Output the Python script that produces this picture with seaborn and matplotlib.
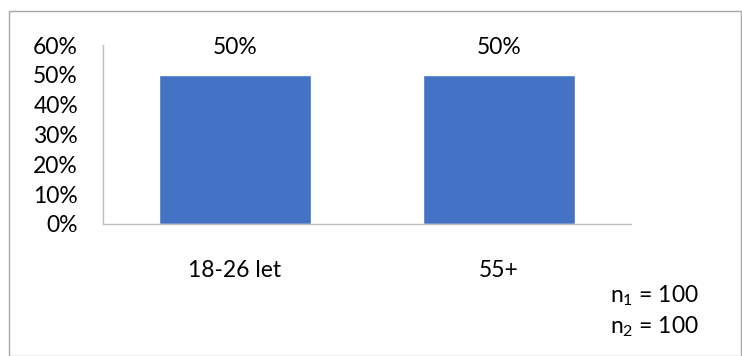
import matplotlib
matplotlib.use("Agg")
import matplotlib.pyplot as plt
import seaborn as sns
import pandas as pd
from matplotlib.patches import Rectangle
from matplotlib.ticker import PercentFormatter

categories = ["18-26 let", "55+"]
shares = [0.50, 0.50]
y_ticks = [0.0, 0.1, 0.2, 0.3, 0.4, 0.5, 0.6]
sample_sizes = [100, 100]

FS = 16.5

sns.set_theme(style="white")
plt.rcParams["font.family"] = ["Lato", "DejaVu Sans"]
plt.rcParams["mathtext.fontset"] = "custom"
plt.rcParams["mathtext.rm"] = "Lato"
plt.rcParams["mathtext.it"] = "Lato"

df = pd.DataFrame({"group": categories, "share": shares})

fig = plt.figure(figsize=(7.42, 3.56), dpi=100)
ax = fig.add_axes([103 / 742, 1 - 224 / 356, 528 / 742, 179 / 356])

sns.barplot(data=df, x="group", y="share", color="#4472C4", saturation=1,
            width=0.572, ax=ax)

ax.set_ylim(0, 0.6)
ax.set_yticks(y_ticks)
ax.yaxis.set_major_formatter(PercentFormatter(1.0, decimals=0))
ax.set_xlabel("")
ax.set_ylabel("")
ax.tick_params(axis="y", length=0, pad=18, labelsize=FS, colors="#000000")
ax.tick_params(axis="x", length=0, pad=26, labelsize=FS, colors="#000000")

for side in ("top", "right"):
    ax.spines[side].set_visible(False)
for side in ("left", "bottom"):
    ax.spines[side].set_color("#BFBFBF")
    ax.spines[side].set_linewidth(1.0)

for i, v in enumerate(shares):
    ax.annotate(f"{v:.0%}", (i, v), xytext=(0, 12), textcoords="offset points",
                ha="center", va="bottom", fontsize=FS, color="#000000")

# sample size note
for k, n in enumerate(sample_sizes):
    fig.text(610 / 742, 1 - (296 + 31 * k) / 356,
             rf"$\mathregular{{n_{k + 1}}}$ = {n}",
             ha="left", va="center", fontsize=FS, color="#000000")

# outer frame
fig.patches.append(Rectangle((9 / 742, 0.5 / 356), 732 / 742, 345 / 356,
                             transform=fig.transFigure, fill=False,
                             edgecolor="#A6A6A6", linewidth=1.0))

fig.savefig("out.png", dpi=100)
